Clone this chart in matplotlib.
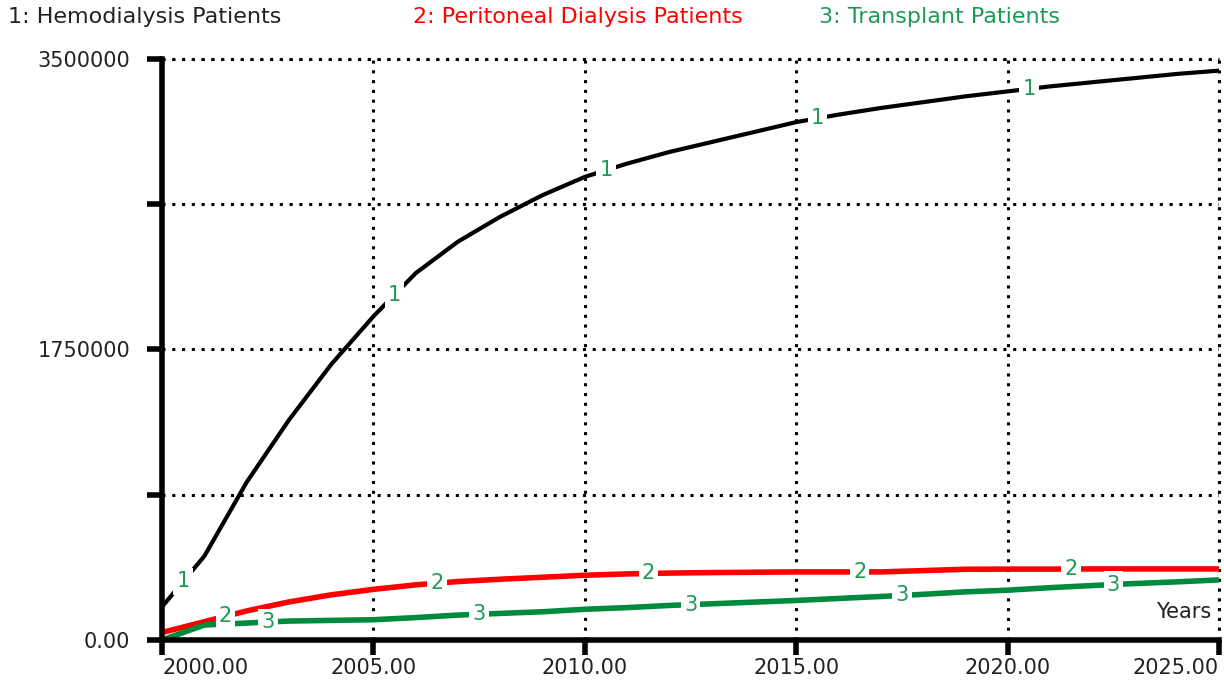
import numpy as np
import matplotlib
matplotlib.use("Agg")
import matplotlib.pyplot as plt

plt.rcParams['font.family'] = ['DejaVu Sans']

# yearly values
years = np.arange(2000, 2026)
hemo = [200000, 505000, 950000, 1325000, 1660000, 1950000, 2210000, 2400000, 2550000, 2680000,
        2790000, 2870000, 2940000, 3000000, 3060000, 3120000, 3165000, 3205000, 3240000, 3275000,
        3305000, 3335000, 3360000, 3385000, 3410000, 3430000]
peritoneal = [45000, 110000, 175000, 229000, 272000, 305000, 332000, 352000, 366000, 378000,
              390000, 398000, 403000, 406000, 408000, 410000, 410000, 410000, 418000, 426000,
              427000, 427000, 428000, 428000, 428000, 428000]
transplant = [0, 90000, 102000, 114000, 118000, 122000, 135000, 150000, 160000, 170000,
              185000, 195000, 208000, 218000, 228000, 238000, 250000, 262000, 275000, 290000,
              300000, 315000, 328000, 340000, 350000, 362000]

names = ["1: Hemodialysis Patients", "2: Peritoneal Dialysis Patients", "3: Transplant Patients"]
line_colors = ["black", "#ff0000", "#008a3e"]
text_colors = ["#222222", "#ff0000", "#1f9a55"]
label_green = "#1f9a55"

fig = plt.figure(figsize=(12.24, 6.83), dpi=100)
ax = fig.add_axes([0.1324, 0.063, 0.8636, 0.8506])

series = [hemo, peritoneal, transplant]
widths = [3.0, 4.0, 4.0]
for i, (vals, c, lw) in enumerate(zip(series, line_colors, widths)):
    ax.plot(years, vals, color=c, lw=lw, solid_capstyle='butt', zorder=3)
    # number markers along the line
    for t in np.arange(2000.5 + i, 2025, 5):
        yv = np.interp(t, years, vals)
        ax.text(t, yv, str(i + 1), color=label_green, fontsize=15, ha='center', va='center',
                zorder=5, bbox=dict(boxstyle='square,pad=0.15', fc='white', ec='none'))

ax.set_xlim(2000, 2025)
ax.set_ylim(0, 3500000)

ax.set_xticks(np.arange(2000, 2026, 5))
ax.set_xticklabels(["%d.00" % y for y in range(2000, 2026, 5)])
xl = ax.get_xticklabels()
xl[0].set_ha('left')
xl[-1].set_ha('right')

ax.set_yticks([0, 875000, 1750000, 2625000, 3500000])
ax.set_yticklabels(["0.00", "", "1750000", "", "3500000"])

ax.tick_params(axis='both', labelsize=15, colors='black', width=4, length=11, direction='out', labelcolor='#222222')
ax.tick_params(axis='x', pad=2)
ax.tick_params(axis='y', pad=12)

ax.grid(True, color='black', linestyle=(0, (1, 2.2)), lw=2.2, zorder=1)
for s in ['top', 'right']:
    ax.spines[s].set_visible(False)
ax.axhline(3500000, color='black', linestyle=(0, (1, 2.2)), lw=2.2, clip_on=False, zorder=1)
ax.axvline(2025, color='black', linestyle=(0, (1, 2.2)), lw=2.2, clip_on=False, zorder=1)
ax.spines['left'].set_linewidth(4)
ax.spines['bottom'].set_linewidth(4)
ax.spines['left'].set_zorder(6)
ax.spines['bottom'].set_zorder(6)

ax.text(0.993, 0.048, "Years", transform=ax.transAxes, ha='right', va='center', fontsize=15, color='#222222')

# header legend
xs = [8, 413, 819]
for x, n, c in zip(xs, names, text_colors):
    fig.text(x / 1224, 1 - 17 / 683, n, color=c, fontsize=16, ha='left', va='center')

fig.savefig("out.png", dpi=100)
